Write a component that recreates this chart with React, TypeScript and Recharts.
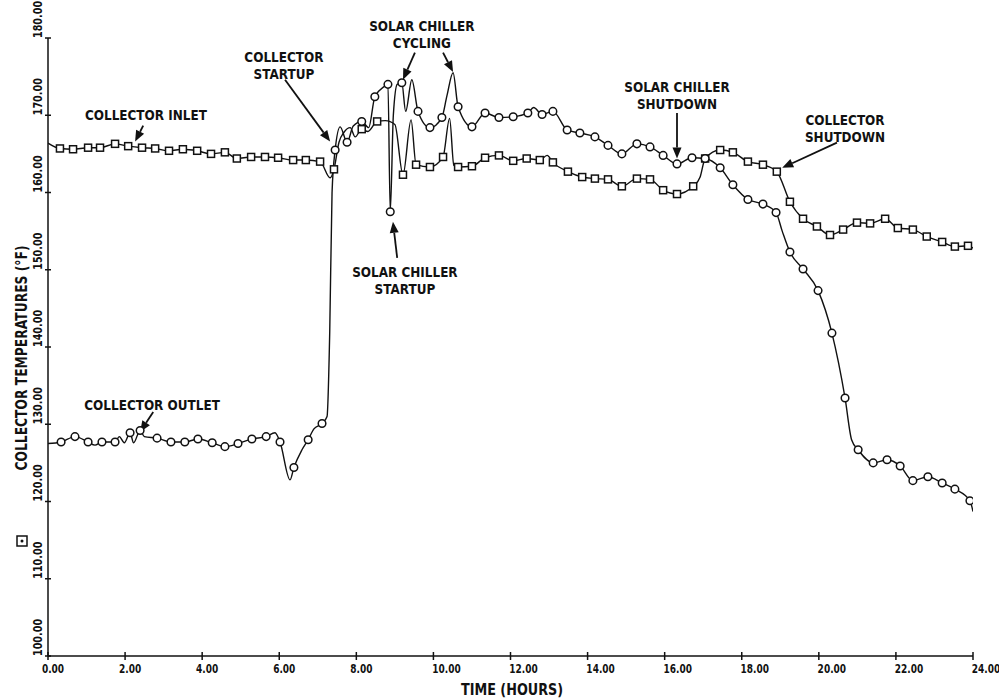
import {Label, Line, LineChart, ReferenceDot, ReferenceLine, XAxis, YAxis} from "recharts";

// [hour, temperature °F, 1 = plotted symbol]
const inletPoints: [number, number, number][] = [
    [0, 166.4, 0], [0.31, 165.7, 1], [0.65, 165.6, 1], [1.04, 165.8, 1], [1.35, 165.8, 1],
    [1.74, 166.3, 1], [2.08, 166.0, 1], [2.44, 165.8, 1], [2.78, 165.7, 1], [3.14, 165.4, 1],
    [3.5, 165.6, 1], [3.87, 165.4, 1], [4.23, 165.0, 1], [4.59, 165.2, 1], [4.9, 164.4, 1],
    [5.27, 164.6, 1], [5.63, 164.6, 1], [5.97, 164.5, 1], [6.36, 164.2, 1], [6.69, 164.2, 1],
    [7.06, 164.0, 1], [7.32, 161.9, 0], [7.42, 163.0, 1], [7.55, 166.5, 0], [7.68, 167.8, 0],
    [7.84, 168.4, 0], [7.97, 167.2, 0], [8.14, 168.2, 1], [8.3, 167.9, 0], [8.54, 169.2, 1],
    [8.75, 169.3, 0], [9.0, 168.8, 0], [9.21, 162.3, 1], [9.42, 169.4, 0], [9.55, 163.6, 1],
    [9.91, 163.3, 1], [10.25, 164.6, 1], [10.42, 169.6, 0], [10.53, 163.5, 0], [10.64, 163.3, 1],
    [11.0, 163.4, 1], [11.34, 164.5, 1], [11.7, 164.8, 1], [12.07, 164.1, 1], [12.42, 164.4, 1],
    [12.76, 164.2, 1], [12.95, 164.8, 0], [13.1, 163.9, 1], [13.49, 162.7, 1], [13.86, 162.0, 1],
    [14.19, 161.8, 1], [14.53, 161.7, 1], [14.89, 160.8, 1], [15.28, 161.8, 1], [15.62, 161.7, 1],
    [15.96, 160.3, 1], [16.32, 159.8, 1], [16.74, 160.8, 1], [16.92, 162.0, 0], [17.05, 164.4, 1],
    [17.44, 165.5, 1], [17.77, 165.2, 1], [18.16, 164.0, 1], [18.55, 163.6, 1], [18.91, 162.7, 1],
    [19.25, 158.8, 1], [19.59, 156.6, 1], [19.95, 155.6, 1], [20.29, 154.5, 1], [20.63, 155.2, 1],
    [20.99, 156.1, 1], [21.33, 156.0, 1], [21.72, 156.6, 1], [22.05, 155.4, 1], [22.44, 155.2, 1],
    [22.8, 154.3, 1], [23.2, 153.6, 1], [23.53, 153.0, 1], [23.87, 153.1, 1], [24.0, 152.8, 0],
];

const outletPoints: [number, number, number][] = [
    [0, 127.5, 0], [0.34, 127.7, 1], [0.7, 128.4, 1], [1.04, 127.7, 1], [1.22, 127.3, 0],
    [1.4, 127.7, 1], [1.74, 127.7, 1], [1.85, 128.4, 0], [1.98, 127.6, 0], [2.13, 128.9, 1],
    [2.22, 127.6, 0], [2.39, 129.2, 1], [2.5, 128.4, 0], [2.83, 128.2, 1], [3.19, 127.7, 1],
    [3.55, 127.7, 1], [3.89, 128.1, 1], [4.26, 127.6, 1], [4.59, 127.1, 1], [4.93, 127.5, 1],
    [5.29, 128.1, 1], [5.66, 128.4, 1], [5.89, 128.9, 0], [6.02, 127.7, 1], [6.28, 122.8, 0],
    [6.38, 124.4, 1], [6.59, 126.7, 0], [6.75, 128.0, 1], [6.9, 129.4, 0], [7.11, 130.1, 1],
    [7.24, 131.0, 0], [7.31, 142.0, 0], [7.37, 160.0, 0], [7.45, 165.5, 1], [7.58, 168.5, 0],
    [7.76, 166.5, 1], [7.92, 168.6, 0], [8.14, 169.2, 1], [8.32, 168.4, 0], [8.48, 172.4, 1],
    [8.72, 173.7, 0], [8.82, 174.0, 1], [8.88, 157.5, 1], [8.96, 170.0, 0], [9.06, 174.0, 0],
    [9.18, 174.2, 1], [9.28, 170.5, 0], [9.44, 174.6, 0], [9.6, 170.5, 1], [9.91, 168.4, 1],
    [10.22, 169.7, 1], [10.35, 172.5, 0], [10.51, 175.5, 0], [10.64, 171.1, 1], [11.0, 168.5, 1],
    [11.34, 170.3, 1], [11.7, 169.7, 1], [12.07, 169.8, 1], [12.45, 170.3, 1], [12.6, 171.0, 0],
    [12.82, 170.1, 1], [13.1, 170.5, 1], [13.47, 168.1, 1], [13.8, 167.7, 1], [14.19, 167.2, 1],
    [14.53, 166.1, 1], [14.89, 165.0, 1], [15.28, 166.3, 1], [15.62, 165.9, 1], [15.96, 164.8, 1],
    [16.32, 163.7, 1], [16.71, 164.5, 1], [17.05, 164.4, 1], [17.44, 163.2, 1], [17.77, 161.0, 1],
    [18.16, 159.1, 1], [18.55, 158.5, 1], [18.89, 157.4, 1], [19.05, 155.0, 0], [19.25, 152.3, 1],
    [19.59, 150.1, 1], [19.98, 147.3, 1], [20.34, 141.8, 1], [20.68, 133.4, 1], [20.85, 128.0, 0],
    [21.02, 126.7, 1], [21.41, 125.0, 1], [21.77, 125.4, 1], [22.11, 124.6, 1], [22.44, 122.7, 1],
    [22.83, 123.2, 1], [23.2, 122.4, 1], [23.53, 121.6, 1], [23.92, 120.1, 1], [24.0, 118.7, 0],
];

const hourTicks = [0, 2, 4, 6, 8, 10, 12, 14, 16, 18, 20, 22, 24];
const tempTicks = [100, 110, 120, 130, 140, 150, 160, 170, 180];

// annotation text: lines, anchor [hour, temp]
const noteTexts: string[][] = [
    ["COLLECTOR INLET"],
    ["COLLECTOR", "STARTUP"],
    ["SOLAR CHILLER", "CYCLING"],
    ["SOLAR CHILLER", "STARTUP"],
    ["SOLAR CHILLER", "SHUTDOWN"],
    ["COLLECTOR", "SHUTDOWN"],
    ["COLLECTOR OUTLET"],
];
const noteAnchors: [number, number][] = [
    [2.54, 170.1], [6.12, 177.6], [9.7, 181.5], [9.26, 149.7], [16.32, 173.7], [20.68, 169.4], [2.7, 132.6],
];
// arrows: [fromHour, fromTemp, toHour, toTemp]
const arrows: [number, number, number, number][] = [
    [2.47, 168.65, 2.26, 166.6],
    [6.15, 174.6, 7.32, 166.6],
    [9.52, 178.1, 9.21, 174.6],
    [10.25, 178.1, 10.51, 175.6],
    [9.06, 151.55, 8.95, 156.2],
    [16.32, 170.3, 16.32, 164.4],
    [20.47, 166.45, 19.05, 163.2],
    [2.73, 131.6, 2.39, 129.0],
];

// the plotter lettering is narrow: squeeze a bold sans horizontally
const font = "'DejaVu Sans', sans-serif";
const squeeze = 0.83;
const ink = '#111';

const toRows = (pts: [number, number, number][]) => pts.map(([t, v, m]) => ({t, v, m}));

const squareDot = (props: any) => {
    const {cx, cy, payload, index} = props;
    if (!payload.m) return <g key={index}/>;
    return <rect key={index} x={cx - 3.5} y={cy - 3.5} width={7} height={7} fill='#fff' stroke={ink} strokeWidth={1.5}/>;
};

const circleDot = (props: any) => {
    const {cx, cy, payload, index} = props;
    if (!payload.m) return <g key={index}/>;
    return <circle key={index} cx={cx} cy={cy} r={3.8} fill='#fff' stroke={ink} strokeWidth={1.5}/>;
};

const HourTick = ({x, y, payload}: any) => (
    <g>
        <line x1={x} x2={x} y1={y - 4} y2={y + 4} stroke={ink} strokeWidth={1.5}/>
        <text transform={`translate(${x + (payload.value >= 10 ? 13 : 5)} ${y + 17}) scale(0.75 1)`}
              textAnchor='middle' fontSize={12} fontWeight='bold' fontFamily={font}
              fill={ink}>{payload.value.toFixed(2)}</text>
    </g>
);

const TempTick = ({x, y, payload}: any) => (
    <g>
        <line x1={x - 3} x2={x + 3} y1={y} y2={y} stroke={ink} strokeWidth={1.5}/>
        <text transform={`translate(${x - 6} ${y}) rotate(-90) scale(0.74 1)`} textAnchor='start' fontSize={13}
              fontWeight='bold' fontFamily={font} fill={ink}>{payload.value.toFixed(2)}</text>
    </g>
);

const arrowShape = (props: any) => {
    const {x1, y1, x2, y2} = props;
    const dx = x2 - x1, dy = y2 - y1;
    const len = Math.hypot(dx, dy) || 1;
    const ux = dx / len, uy = dy / len;
    const head = 11, half = 4.5;
    const bx = x2 - ux * head, by = y2 - uy * head;
    return (
        <g>
            <line x1={x1} y1={y1} x2={bx} y2={by} stroke={ink} strokeWidth={1.8}/>
            <polygon points={`${x2},${y2} ${bx - uy * half},${by + ux * half} ${bx + uy * half},${by - ux * half}`}
                     fill={ink}/>
        </g>
    );
};

const noteShape = (lines: string[]) => (props: any) => (
    <g transform={`translate(${props.cx} ${props.cy + (lines.length > 1 ? 5 : 6)}) scale(${squeeze} 1)`}>
        <text x={0} y={0} textAnchor='middle' fontSize={14.5} fontWeight='bold' fontFamily={font} fill={ink}>
            {lines.map((s, i) => <tspan key={i} x={0} dy={i === 0 ? 0 : 17}>{s}</tspan>)}
        </text>
    </g>
);

export default function App() {
    return (
        <div style={{position: 'fixed', left: 0, top: 0, background: '#fff'}}>
            <LineChart width={999} height={699} margin={{top: 38, right: 26, bottom: 0, left: 0}}>
                <XAxis dataKey='t' type='number' domain={[0, 24]} ticks={hourTicks} height={43}
                       tickSize={0} tickMargin={0} tick={<HourTick/>} axisLine={{stroke: ink, strokeWidth: 1.5}}
                       allowDataOverflow>
                    <Label content={() => (
                        <text transform='translate(512 695) scale(0.8 1)' textAnchor='middle' fontSize={16}
                              fontWeight='bold' fontFamily={font} fill={ink}>TIME (HOURS)</text>
                    )}/>
                </XAxis>
                <YAxis type='number' domain={[100, 180]} ticks={tempTicks} width={48} tickSize={0} tickMargin={0}
                       tick={<TempTick/>} axisLine={{stroke: ink, strokeWidth: 1.5}} allowDataOverflow>
                    <Label content={() => (
                        <g>
                            <text transform='translate(27 358) rotate(-90) scale(0.77 1)' textAnchor='middle'
                                  fontSize={16} fontWeight='bold' fontFamily={font}
                                  fill={ink}>COLLECTOR TEMPERATURES (°F)</text>
                            <rect x={17} y={536} width={10} height={10} fill='#fff' stroke={ink} strokeWidth={1.5}/>
                            <circle cx={22} cy={541} r={1.5} fill={ink}/>
                        </g>
                    )}/>
                </YAxis>
                <Line data={toRows(inletPoints)} dataKey='v' name='Collector inlet' type='monotone' stroke={ink}
                      strokeWidth={1.4} dot={squareDot} activeDot={false} isAnimationActive={false}/>
                <Line data={toRows(outletPoints)} dataKey='v' name='Collector outlet' type='monotone' stroke={ink}
                      strokeWidth={1.4} dot={circleDot} activeDot={false} isAnimationActive={false}/>
                {arrows.map(([t1, v1, t2, v2], i) => (
                    <ReferenceLine key={'a' + i} segment={[{x: t1, y: v1}, {x: t2, y: v2}]} ifOverflow='visible'
                                   shape={arrowShape}/>
                ))}
                {noteTexts.map((lines, i) => (
                    <ReferenceDot key={'n' + i} x={noteAnchors[i][0]} y={noteAnchors[i][1]} r={0}
                                  ifOverflow='visible' shape={noteShape(lines)}/>
                ))}
            </LineChart>
        </div>
    );
}
